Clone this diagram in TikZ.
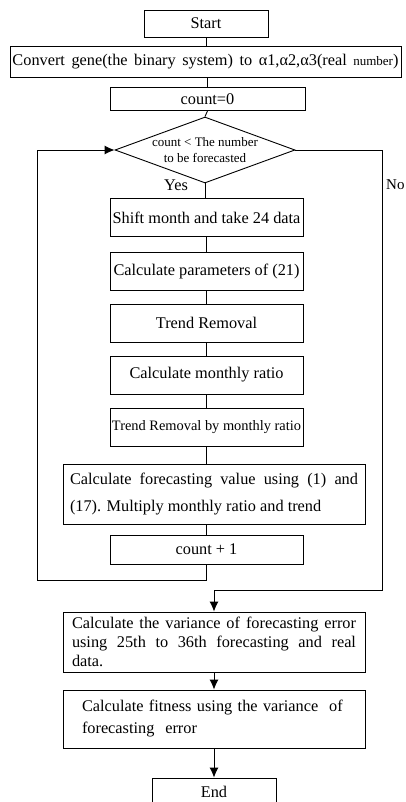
\documentclass[tikz,border=0pt]{standalone}
\usepackage{fontspec}
\setmainfont{Liberation Serif}
\usetikzlibrary{positioning,shapes.geometric,arrows.meta,calc}
\hyphenpenalty=10000
\exhyphenpenalty=10000

\begin{document}
\begin{tikzpicture}[
    x=1pt, y=-1pt, >={Latex[length=10pt,width=9pt]}, line width=0.9pt,
    font=\fontsize{16.3}{19}\selectfont,
    term/.style    ={draw, minimum width=124pt, minimum height=27pt, inner sep=1pt},
    box/.style     ={draw, minimum width=193pt, minimum height=38pt, align=center, inner sep=1pt},
    wide/.style    ={draw, minimum width=302pt, minimum height=60pt, align=justify, inner ysep=2pt},
    decision/.style={draw, diamond, aspect=2.7, minimum width=180pt, minimum height=66pt, inner sep=-6pt, align=center, font=\fontsize{13}{16}\selectfont}
]
\useasboundingbox (0,0) rectangle (406,802);
\clip (0,0) rectangle (406,802);

% --- Start and set-up ---
\node[term] (start) at (206,23.5) {Start};
\node[draw, minimum width=391pt, minimum height=31pt, inner sep=1pt] (convert) at (205.5,62)
  {\makebox[386pt][s]{Convert gene(the binary system) to α1,α2,α3(real {\fontsize{13}{14}\selectfont number})}};
\node[draw, minimum width=195pt, minimum height=23pt, inner sep=1pt] (count0) at (207.5,99) {count=0};

% --- Loop test ---
\node[decision] (cond) at (205,150) {count < The number\\to be forecasted};
\node (yes) at (176,185) {Yes};
\node[anchor=east, inner sep=1pt, font=\fontsize{15}{18}\selectfont] (no) at (406,185) {No};

% --- Loop body ---
\node[box] (shift)   at (206.5,217.5) {Shift month and take 24 data};
\node[box] (param)   at (206.5,271)   {Calculate parameters of (21)};
\node[box] (trend)   at (206.5,323)   {Trend Removal};
\node[box] (ratio)   at (206.5,375)   {Calculate monthly ratio};
\node[box, font=\fontsize{14.4}{17}\selectfont] (byratio) at (206.5,427.5) {Trend Removal by monthly ratio};
\node[wide, text width=288pt, inner xsep=7pt, font=\fontsize{16.3}{27}\selectfont] (forecast) at (214,494)
  {Calculate forecasting value using (1) and (17). Multiply monthly ratio and trend};
\node[draw, minimum width=193pt, minimum height=29pt, inner sep=1pt] (inc) at (206.5,549.5) {count + 1};

% --- After the loop ---
\node[wide, text width=284pt, inner xsep=9pt, font=\fontsize{16.3}{19}\selectfont] (variance) at (214,642)
  {Calculate the variance of forecasting error\linebreak using 25th to 36th forecasting and real\linebreak data.};
\node[wide, minimum height=58pt, text width=264pt, inner xsep=19pt, align=left, font=\fontsize{16.3}{22}\selectfont] (fitness) at (214,719)
  {Calculate fitness using the variance\ \ of\\forecasting\ \ error};
\node[term] (finish) at (214,791.5) {End};

% --- Plain links ---
\draw (start.south) -- (start.south |- convert.north);
\draw (count0.north |- convert.south) -- (count0.north);
\draw (count0.south) -- (cond.north);
\draw (cond.south) -- (cond.south |- shift.north);
\draw (shift.south) -- (param.north);
\draw (param.south) -- (trend.north);
\draw (trend.south) -- (ratio.north);
\draw (ratio.south) -- (byratio.north);
\draw (byratio.south) -- (byratio.south |- forecast.north);
\draw (inc.north |- forecast.south) -- (inc.north);

% --- Back to the test ---
\coordinate (loopcorner) at (37,580);
\draw[->] (inc.south) |- (loopcorner) |- (cond.west);

% --- No branch ---
\coordinate (nocorner) at (382,590);
\draw[->] (cond.east) -| (nocorner) -| (variance.north);

% --- Final steps ---
\draw[->] (variance.south) -- (fitness.north);
\draw[->] (fitness.south) -- (finish.north);

\end{tikzpicture}
\end{document}
